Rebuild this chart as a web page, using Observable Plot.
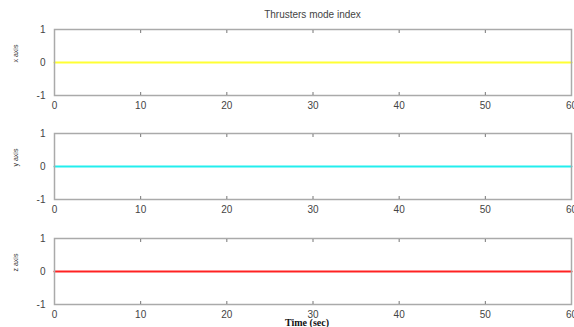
<!DOCTYPE html>
<html>
<head>
<meta charset="utf-8">
<script src="https://cdn.jsdelivr.net/npm/d3@7"></script>
<script src="https://cdn.jsdelivr.net/npm/@observablehq/plot@0.6"></script>
<style>
  html, body { margin: 0; padding: 0; background: #fff; }
  #wrap { position: relative; width: 574px; height: 327px; overflow: hidden; font-family: "Liberation Sans", Arial, sans-serif; }
  .panel { position: absolute; left: 0; }
  #title { position: absolute; top: 9px; left: 0; width: 625px; text-align: center; font-size: 10px; color: #444; }
  #xlabel { position: absolute; top: 317px; left: 0; width: 614px; text-align: center; font-family: "Liberation Serif", "Times New Roman", serif; font-weight: bold; font-size: 10px; color: #111; }
</style>
</head>
<body>
<div id="wrap">
  <div id="title">Thrusters mode index</div>
  <div id="p1" class="panel" style="top:0px"></div>
  <div id="p2" class="panel" style="top:105px"></div>
  <div id="p3" class="panel" style="top:210px"></div>
  <div id="xlabel">Time (sec)</div>
</div>
<script>
const time = [0, 10, 20, 30, 40, 50, 60];
const xAxisMode = [0, 0, 0, 0, 0, 0, 0];
const yAxisMode = [0, 0, 0, 0, 0, 0, 0];
const zAxisMode = [0, 0, 0, 0, 0, 0, 0];
const xTicks = [0, 10, 20, 30, 40, 50, 60];
const yTicks = [-1, 0, 1];
const panelLabels = ["x axis", "y axis", "z axis"];
const panelColors = ["#ffff33", "#22eeee", "#ff2222"];

function panel(values, color, label, marginTop, marginBottom) {
  const data = time.map((t, i) => ({t, v: values[i]}));
  return Plot.plot({
    width: 574,
    height: 110,
    marginLeft: 54,
    marginRight: 3,
    marginTop,
    marginBottom,
    style: {fontFamily: "Liberation Sans, Arial, sans-serif", fontSize: "10px", color: "#444", background: "transparent", overflow: "visible"},
    x: {domain: [0, 60], label: null},
    y: {domain: [-1, 1], label: null},
    marks: [
      Plot.lineY(data, {x: "t", y: "v", stroke: color, strokeWidth: 2.2}),
      Plot.frame({stroke: "#aaaaaa", strokeWidth: 1.5}),
      Plot.axisX(xTicks.slice(1, -1), {anchor: "bottom", tickSize: 3, dy: -3, text: null, label: null, stroke: "#777"}),
      Plot.axisX(xTicks.slice(1, -1), {anchor: "top", tickSize: 3, dy: 3, text: null, label: null, stroke: "#777"}),
      Plot.axisX(xTicks, {anchor: "bottom", tickSize: 0, tickPadding: 6, fill: "#444", label: null}),
      Plot.axisY(yTicks, {anchor: "left", tickSize: 0, tickPadding: 9, fill: "#444", label: null, tickFormat: d => d < 0 ? "-" + Math.abs(d) : String(d)}),
      Plot.text([label], {frameAnchor: "left", dx: -39, rotate: -90, fontSize: 7, fill: "#333", text: d => d})
    ]
  });
}

document.getElementById("p1").appendChild(panel(xAxisMode, panelColors[0], panelLabels[0], 29, 15));
document.getElementById("p2").appendChild(panel(yAxisMode, panelColors[1], panelLabels[1], 28, 16));
document.getElementById("p3").appendChild(panel(zAxisMode, panelColors[2], panelLabels[2], 28, 16));
</script>
</body>
</html>
